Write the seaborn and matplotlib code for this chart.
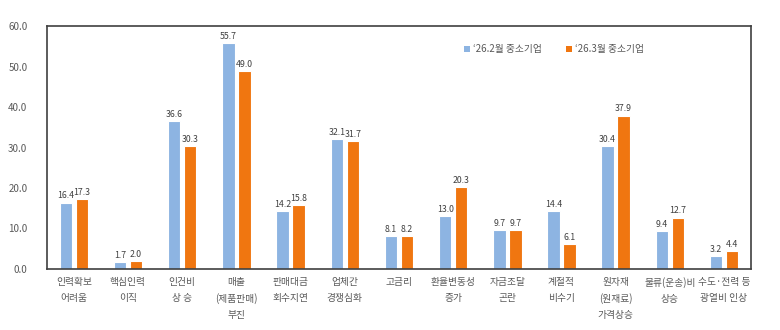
import matplotlib
matplotlib.use("Agg")
import matplotlib.pyplot as plt
import seaborn as sns
import pandas as pd

categories = ["인력확보\n어려움", "핵심인력\n이직", "인건비\n상 승", "매출\n(제품판매)\n부진",
              "판매대금\n회수지연", "업체간\n경쟁심화", "고금리", "환율변동성\n증가", "자금조달\n곤란",
              "계절적\n비수기", "원자재\n(원재료)\n가격상승", "물류(운송)비\n상승", "수도·전력 등\n광열비 인상"]
series_names = ["‘26.2월 중소기업", "‘26.3월 중소기업"]
feb_values = [16.4, 1.7, 36.6, 55.7, 14.2, 32.1, 8.1, 13.0, 9.7, 14.4, 30.4, 9.4, 3.2]
mar_values = [17.3, 2.0, 30.3, 49.0, 15.8, 31.7, 8.2, 20.3, 9.7, 6.1, 37.9, 12.7, 4.4]
y_ticks = [0, 10, 20, 30, 40, 50, 60]

sns.set_theme(style="white")
plt.rcParams['font.family'] = ['Noto Sans CJK KR', 'DejaVu Sans']

df = pd.DataFrame({
    "cat": categories * 2,
    "series": [series_names[0]] * len(categories) + [series_names[1]] * len(categories),
    "value": feb_values + mar_values,
})

fig = plt.figure(figsize=(7.8, 3.3), dpi=100)
ax = fig.add_axes([0.060, 0.185, 0.903, 0.736])
colors = ["#8DB4E2", "#F07610"]
sns.barplot(data=df, x="cat", y="value", hue="series", palette=colors, saturation=1,
            width=0.59, gap=0.22, edgecolor="white", linewidth=0.8, ax=ax, legend=True)

for cont in ax.containers:
    ax.bar_label(cont, fmt="%.1f", fontsize=6.3, color="#404040", padding=1.5)

ax.set_ylim(0, 60)
ax.set_yticks(y_ticks)
ax.set_yticklabels([f"{v:.1f}" for v in y_ticks], fontsize=7, color="#595959")
ax.set_xlim(-0.5, len(categories) - 0.5)
ax.set_xlabel("")
ax.set_ylabel("")
ax.tick_params(axis="x", labelsize=7, colors="#595959", length=0, pad=6)
ax.tick_params(axis="y", length=0, pad=14)
for lbl in ax.get_xticklabels():
    lbl.set_linespacing(1.7)
for s in ax.spines.values():
    s.set_color("#404040")
    s.set_linewidth(1.2)

leg = ax.legend(loc="center", bbox_to_anchor=(0.72, 0.905), ncol=2, frameon=False,
                fontsize=7, handlelength=0.6, handleheight=0.6, handletextpad=0.3,
                columnspacing=2.5, labelcolor="#595959")
for h in leg.legend_handles:
    h.set_edgecolor("none")

fig.savefig("out.png", dpi=100)
